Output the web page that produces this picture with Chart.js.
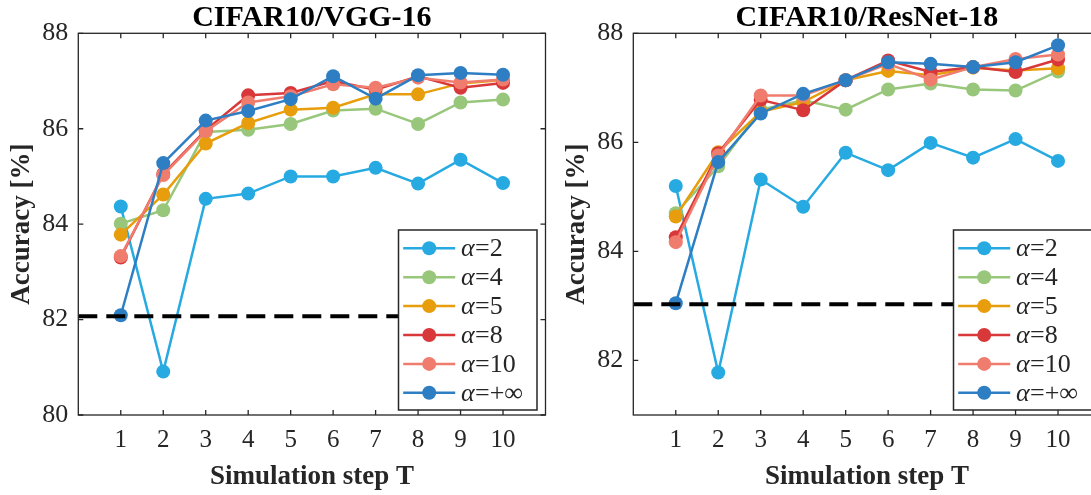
<!DOCTYPE html>
<html><head><meta charset="utf-8">
<script src="https://cdn.jsdelivr.net/npm/chart.js@4.4.0/dist/chart.umd.min.js"></script>
<style>
html,body{margin:0;padding:0;width:1091px;height:495px;overflow:hidden;background:#fff;}
canvas{position:absolute;top:0;}
#c1{left:0;} #c2{left:555px;}
</style></head><body>
<canvas id="c1" width="560" height="495"></canvas>
<canvas id="c2" width="560" height="495"></canvas>
<script>
// ---------- data ----------
const steps = [1,2,3,4,5,6,7,8,9,10];
const alphaLabels = ['2','4','5','8','10','+\u221E'];

const vggA2   = [84.37,80.91,84.53,84.64,85.00,85.00,85.18,84.85,85.35,84.86];
const vggA4   = [84.01,84.29,85.93,85.98,86.10,86.38,86.42,86.10,86.55,86.61];
const vggA5   = [83.78,84.62,85.69,86.12,86.40,86.44,86.72,86.72,86.95,87.02];
const vggA8   = [83.30,85.05,85.97,86.70,86.75,87.00,86.82,87.10,86.86,86.96];
const vggA10  = [83.33,85.03,85.95,86.55,86.68,86.93,86.86,87.07,86.97,87.03];
const vggAInf = [82.09,85.28,86.17,86.37,86.62,87.10,86.63,87.12,87.17,87.13];
const vggBaseline = 82.07;
const vggYTicks = [80,82,84,86,88];

const resA2   = [85.20,81.78,85.32,84.82,85.81,85.49,85.99,85.72,86.06,85.66];
const resA4   = [84.70,85.56,86.60,86.77,86.60,86.97,87.08,86.97,86.95,87.30];
const resA5   = [84.64,85.82,86.56,86.74,87.14,87.31,87.23,87.37,87.32,87.36];
const resA8   = [84.26,85.80,86.78,86.59,87.14,87.50,87.29,87.38,87.29,87.52];
const resA10  = [84.17,85.76,86.86,86.86,87.14,87.44,87.15,87.38,87.53,87.61];
const resAInf = [83.05,85.64,86.53,86.89,87.14,87.47,87.44,87.38,87.47,87.78];
const resBaseline = 83.03;
const resYTicks = [82,84,86,88];

const xTicks = steps;
const baselineSpan = [0, 8];

// ---------- styles ----------
const colors = ['#27AAE1','#98C77C','#E89E0C','#D8383A','#F07C6E','#2E7EC4'];
const FONT = '"Liberation Serif"';
const AX = '#262626';

Chart.defaults.font.family = FONT;

const frameAndText = {
  id:'frameAndText',
  afterDraw(chart){
    const {ctx, chartArea:a, scales:{x,y}} = chart;
    const o = chart.options.plugins.frameAndText;
    ctx.save();
    // frame
    ctx.strokeStyle = AX; ctx.lineWidth = 1.3;
    ctx.strokeRect(a.left, a.top, a.right-a.left, a.bottom-a.top);
    // inward tick marks
    ctx.beginPath();
    x.ticks.forEach(t=>{
      const px = x.getPixelForValue(t.value);
      ctx.moveTo(px,a.bottom); ctx.lineTo(px,a.bottom-5);
      ctx.moveTo(px,a.top); ctx.lineTo(px,a.top+5);
    });
    y.ticks.forEach(t=>{
      const py = y.getPixelForValue(t.value);
      ctx.moveTo(a.left,py); ctx.lineTo(a.left+5,py);
      ctx.moveTo(a.right,py); ctx.lineTo(a.right-5,py);
    });
    ctx.stroke();
    // legend
    const w = 138.5, h = 180;
    const lx = a.right - 8.5 - w, ly = a.bottom - 5 - h;
    ctx.fillStyle = '#fff';
    ctx.fillRect(lx, ly, w, h);
    ctx.strokeStyle = AX; ctx.lineWidth = 1.5;
    ctx.strokeRect(lx, ly, w, h);
    chart.data.datasets.forEach((ds,i)=>{
      if (ds.legendIndex === undefined) return;
      const k = ds.legendIndex;
      const cy = ly + 18.3 + 28.9*k;
      ctx.strokeStyle = ds.borderColor; ctx.lineWidth = 2.5;
      ctx.beginPath(); ctx.moveTo(lx+4.7, cy); ctx.lineTo(lx+56.7, cy); ctx.stroke();
      ctx.fillStyle = ds.backgroundColor;
      ctx.beginPath(); ctx.arc(lx+30.7, cy, 7, 0, Math.PI*2); ctx.fill();
      ctx.fillStyle = AX; ctx.textBaseline = 'middle'; ctx.textAlign = 'left';
      ctx.font = 'italic 26px ' + FONT;
      ctx.fillText('\u03B1', lx+62.4, cy+1);
      const aw = ctx.measureText('\u03B1').width;
      ctx.font = '26px ' + FONT;
      ctx.fillText('=' + ds.label, lx+62.4+aw+0.5, cy+1);
    });
    // title
    ctx.fillStyle = '#000'; ctx.textAlign = 'center'; ctx.textBaseline = 'middle';
    ctx.font = 'bold 30px ' + FONT;
    ctx.fillText(o.title, (a.left+a.right)/2, 18);
    // x-axis title
    ctx.fillStyle = AX;
    ctx.font = 'bold 27px ' + FONT;
    ctx.fillText('Simulation step T', (a.left+a.right)/2, 477);
    // y-axis title
    ctx.save();
    ctx.translate(22, (a.top+a.bottom)/2);
    ctx.rotate(-Math.PI/2);
    ctx.font = 'bold 27px ' + FONT;
    ctx.fillText('Accuracy [%]', 0, 0);
    ctx.restore();
    ctx.restore();
  }
};

function makeChart(id, title, series, baseline, yMin, yMax, yTicks){
  const datasets = series.map((vals,i)=>({
    label: alphaLabels[i],
    legendIndex: i,
    data: steps.map((s,j)=>({x:s, y:vals[j]})),
    borderColor: colors[i],
    backgroundColor: colors[i],
    borderWidth: 2.5,
    pointRadius: 7,
    pointBorderWidth: 0,
    pointHoverRadius: 7,
    order: 6 - i,
    tension: 0
  }));
  datasets.push({
    label: 'baseline',
    data: baselineSpan.map(v=>({x:v, y:baseline})),
    borderColor: '#000',
    borderWidth: 4,
    borderDash: [19,9],
    pointRadius: 0,
    order: 0
  });
  return new Chart(document.getElementById(id), {
    type: 'line',
    data: { datasets },
    options: {
      responsive: false,
      animation: false,
      events: [],
      layout: { padding: { top: 33.3, right: 14.5, left: 0, bottom: 0 } },
      plugins: {
        legend: { display: false },
        tooltip: { enabled: false },
        title: { display: false },
        frameAndText: { title }
      },
      scales: {
        x: {
          type: 'linear', min: 0, max: 11,
          grid: { display: false, drawTicks: false },
          border: { display: false },
          afterBuildTicks: s => { s.ticks = xTicks.map(v=>({value:v})); },
          afterFit: s => { s.height = 80; },
          ticks: { color: AX, font: { size: 25, family: FONT }, padding: 10, maxRotation: 0, autoSkip: false }
        },
        y: {
          type: 'linear', min: yMin, max: yMax,
          grid: { display: false, drawTicks: false },
          border: { display: false },
          afterBuildTicks: s => { s.ticks = yTicks.map(v=>({value:v})); },
          afterFit: s => { s.width = 78.3; },
          ticks: { color: AX, font: { size: 26, family: FONT }, padding: 10 }
        }
      }
    },
    plugins: [frameAndText]
  });
}

makeChart('c1', 'CIFAR10/VGG-16', [vggA2,vggA4,vggA5,vggA8,vggA10,vggAInf], vggBaseline, 80, 88, vggYTicks);
makeChart('c2', 'CIFAR10/ResNet-18', [resA2,resA4,resA5,resA8,resA10,resAInf], resBaseline, 81, 88, resYTicks);
</script>
</body></html>
